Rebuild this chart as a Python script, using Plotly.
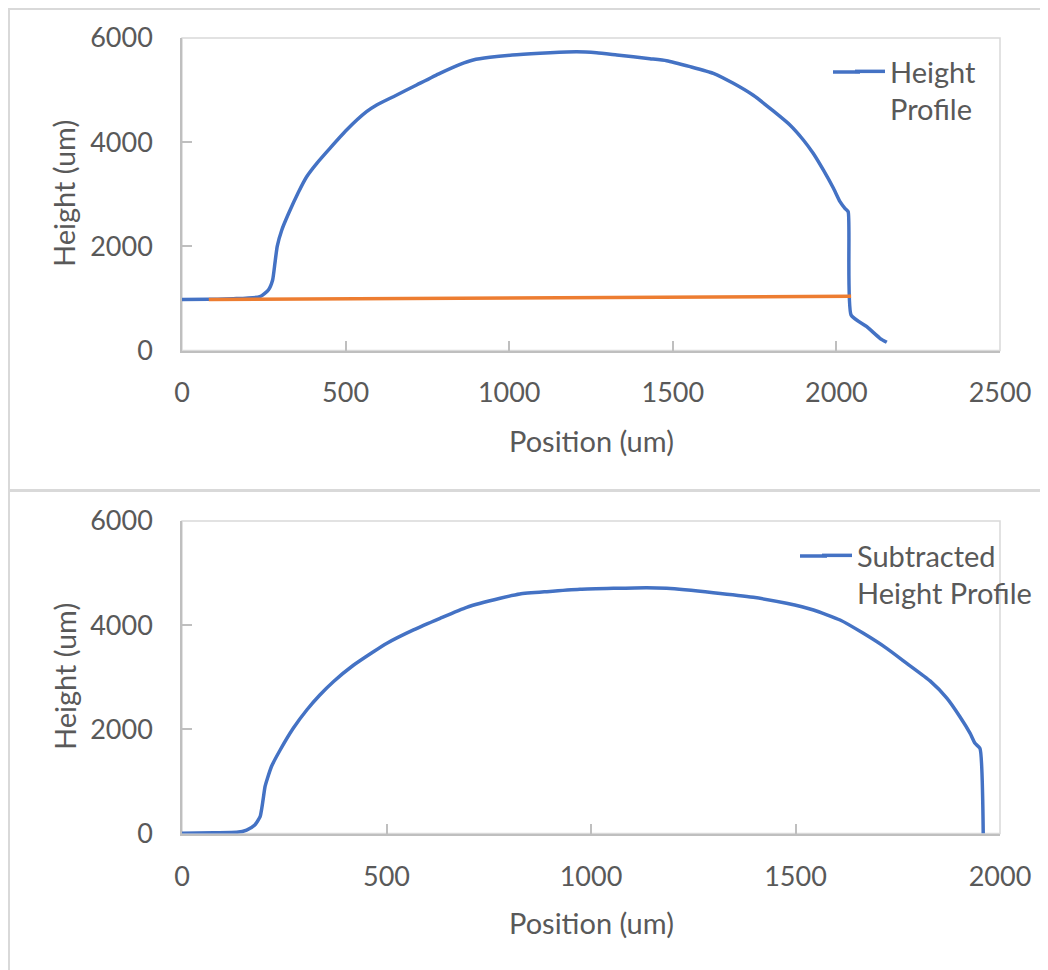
import plotly.graph_objects as go

# ---- data ----
height_x = [0, 82, 157, 238, 264, 277, 284, 291, 305, 325, 355, 381, 412, 452, 503, 564,
            595, 646, 717, 788, 850, 890, 941, 1023, 1125, 1206, 1267, 1329, 1430, 1481,
            1553, 1624, 1685, 1746, 1807, 1858, 1899, 1929, 1960, 1991, 2011, 2026, 2036,
            2045, 2093, 2133, 2154]
height_y = [980, 985, 995, 1033, 1162, 1354, 1674, 2000, 2314, 2620, 3030, 3337, 3594, 3882,
            4234, 4585, 4714, 4873, 5098, 5322, 5495, 5578, 5629, 5680, 5718, 5737, 5718,
            5674, 5603, 5565, 5450, 5322, 5130, 4900, 4600, 4330, 4042, 3786, 3466, 3114,
            2857, 2730, 2665, 680, 457, 234, 157]

baseline_x = [82, 2045]
baseline_y = [980, 1040]

sub_x = [0, 77, 134, 158, 178, 191, 197, 203, 209, 219, 240, 272, 305, 337, 370, 419, 468,
         500, 566, 631, 696, 778, 826, 892, 973, 1055, 1136, 1185, 1299, 1397, 1478, 1544,
         1609, 1666, 1723, 1772, 1829, 1870, 1902, 1927, 1939, 1951, 1959]
sub_y = [4, 15, 23, 67, 163, 323, 580, 899, 1060, 1290, 1603, 2020, 2371, 2659, 2915, 3230,
         3490, 3650, 3910, 4132, 4343, 4516, 4598, 4643, 4688, 4707, 4720, 4707, 4624, 4535,
         4420, 4291, 4099, 3843, 3555, 3267, 2930, 2600, 2243, 1923, 1731, 1635, 0]

top_xticks = [0, 500, 1000, 1500, 2000, 2500]
bot_xticks = [0, 500, 1000, 1500, 2000]
yticks = [0, 2000, 4000, 6000]

# ---- styling ----
W, H = 1048, 970
OFF = 8  # page body margin offset
FONT = "Lato"
TXT = "#595959"
FS_TICK = 27
FS_TEXT = 29
BLUE = "#4472C4"
ORANGE = "#ED7D31"
AXIS = "#BFBFBF"
BOX = "#D9D9D9"
LW = 3.5

def px(xp):
    return (xp - OFF) / W

def py(yp):
    return 1 - (yp - OFF) / H

fig = go.Figure()
fig.add_trace(go.Scatter(x=height_x, y=height_y, mode="lines", name="Height<br>Profile",
                         line=dict(color=BLUE, width=LW, shape="spline", smoothing=0.5),
                         xaxis="x", yaxis="y", legend="legend"))
fig.add_trace(go.Scatter(x=baseline_x, y=baseline_y, mode="lines", name="Baseline",
                         line=dict(color=ORANGE, width=LW), xaxis="x", yaxis="y",
                         showlegend=False))
fig.add_trace(go.Scatter(x=sub_x, y=sub_y, mode="lines", name="Subtracted<br>Height Profile",
                         line=dict(color=BLUE, width=LW, shape="spline", smoothing=0.5),
                         xaxis="x2", yaxis="y2", legend="legend2"))

xdom = [px(182), px(1000)]
top_dom = [py(350.5), py(38)]
bot_dom = [py(833.5), py(521)]

common_axis = dict(showgrid=False, zeroline=False, showline=True, linecolor=AXIS,
                   linewidth=1.5, ticks="inside", ticklen=10, tickcolor=AXIS, tickwidth=1.5,
                   tickfont=dict(family=FONT, size=FS_TICK, color=TXT),
                   fixedrange=True, automargin=False)

fig.update_layout(
    template="none",
    width=W, height=H,
    margin=dict(l=0, r=0, t=0, b=0, pad=0, autoexpand=False),
    paper_bgcolor="white", plot_bgcolor="white",
    font=dict(family=FONT, size=FS_TEXT, color=TXT),
    xaxis=dict(domain=xdom, anchor="y", range=[0, 2500], tickvals=top_xticks,
               ticklabelstandoff=17, **common_axis),
    yaxis=dict(domain=top_dom, anchor="x", range=[0, 6000], tickvals=yticks,
               ticklabelstandoff=22, **common_axis),
    xaxis2=dict(domain=xdom, anchor="y2", range=[0, 2000], tickvals=bot_xticks,
                ticklabelstandoff=18, **common_axis),
    yaxis2=dict(domain=bot_dom, anchor="x2", range=[0, 6000], tickvals=yticks,
                ticklabelstandoff=22, **common_axis),
    legend=dict(x=px(850), y=py(46), xanchor="left", yanchor="top", valign="top",
                bgcolor="rgba(0,0,0,0)", font=dict(family=FONT, size=FS_TEXT, color=TXT),
                itemwidth=30, tracegroupgap=0),
    legend2=dict(x=px(817), y=py(530), xanchor="left", yanchor="top", valign="top",
                 bgcolor="rgba(0,0,0,0)", font=dict(family=FONT, size=FS_TEXT, color=TXT),
                 itemwidth=30, tracegroupgap=0),
    showlegend=True,
)

shapes = []
# outer chart frames
shapes.append(dict(type="rect", xref="paper", yref="paper", x0=px(9), x1=px(1070),
                   y0=py(490), y1=py(9), line=dict(color=BOX, width=2), layer="below"))
shapes.append(dict(type="rect", xref="paper", yref="paper", x0=px(9), x1=px(1070),
                   y0=py(1000), y1=py(491), line=dict(color=BOX, width=2), layer="below"))
# plot-area boxes
for dom in (top_dom, bot_dom):
    shapes.append(dict(type="rect", xref="paper", yref="paper", x0=xdom[0], x1=xdom[1],
                       y0=dom[0], y1=dom[1], line=dict(color=BOX, width=1.5), layer="below"))
# longer legend keys (Excel draws a wider line sample)
shapes.append(dict(type="line", xref="paper", yref="paper", x0=px(833), x1=px(860),
                   y0=py(72), y1=py(72), line=dict(color=BLUE, width=LW)))
shapes.append(dict(type="line", xref="paper", yref="paper", x0=px(800), x1=px(827),
                   y0=py(556), y1=py(556), line=dict(color=BLUE, width=LW)))
fig.update_layout(shapes=shapes)

ann = []
for yc in (194, 677):
    ann.append(dict(text="Height (um)", x=px(64), y=py(yc), xref="paper", yref="paper",
                    textangle=-90, showarrow=False, xanchor="center", yanchor="middle",
                    font=dict(family=FONT, size=FS_TEXT, color=TXT)))
for yc in (440, 922):
    ann.append(dict(text="Position (um)", x=px(591), y=py(yc), xref="paper", yref="paper",
                    showarrow=False, xanchor="center", yanchor="middle",
                    font=dict(family=FONT, size=FS_TEXT, color=TXT)))
fig.update_layout(annotations=ann)

fig.write_html("out.html")
